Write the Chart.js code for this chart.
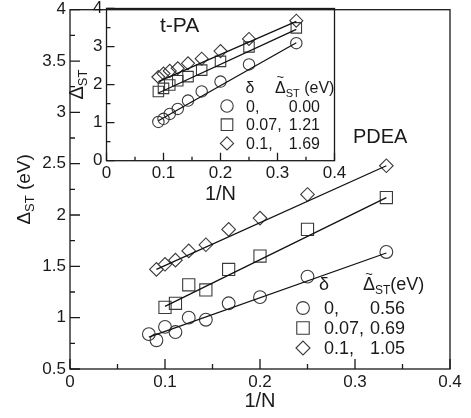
<!DOCTYPE html>
<html>
<head>
<meta charset="utf-8">
<script src="https://cdn.jsdelivr.net/npm/chart.js@4.4.1/dist/chart.umd.min.js"></script>
<style>
  html, body { margin: 0; padding: 0; background: #fff; }
  #wrap { position: relative; width: 471px; height: 418px; }
  #wrap canvas { position: absolute; left: 0; top: 0; }
</style>
</head>
<body>
<div id="wrap">
  <canvas id="pdea" width="471" height="418"></canvas>
  <canvas id="tpa" width="360" height="210"></canvas>
</div>
<script>
// PDEA: singlet-triplet gap against 1/N, three values of delta
const pdeaCircleX = [0.083, 0.091, 0.100, 0.111, 0.125, 0.143, 0.167, 0.200, 0.250, 0.333];
const pdeaCircleY = [0.84, 0.78, 0.91, 0.86, 1.00, 0.98, 1.14, 1.20, 1.40, 1.64];
const pdeaSquareX = [0.100, 0.111, 0.125, 0.143, 0.167, 0.200, 0.250, 0.333];
const pdeaSquareY = [1.10, 1.14, 1.32, 1.27, 1.47, 1.60, 1.86, 2.17];
const pdeaDiamondX = [0.091, 0.100, 0.111, 0.125, 0.143, 0.167, 0.200, 0.250, 0.333];
const pdeaDiamondY = [1.47, 1.52, 1.56, 1.65, 1.71, 1.86, 1.97, 2.20, 2.48];

// linear fits (end points)
const pdeaFitCircleX = [0.083, 0.333];
const pdeaFitCircleY = [0.81, 1.63];
const pdeaFitSquareX = [0.100, 0.333];
const pdeaFitSquareY = [1.11, 2.17];
const pdeaFitDiamondX = [0.091, 0.333];
const pdeaFitDiamondY = [1.47, 2.48];

// t-PA (inset)
const tpaX = [0.091, 0.100, 0.111, 0.125, 0.143, 0.167, 0.200, 0.250, 0.333];
const tpaCircleY = [1.02, 1.10, 1.23, 1.36, 1.58, 1.82, 2.08, 2.53, 3.09];
const tpaSquareY = [1.82, 1.90, 1.99, 2.10, 2.21, 2.38, 2.61, 2.99, 3.49];
const tpaDiamondY = [2.20, 2.29, 2.36, 2.43, 2.56, 2.68, 2.88, 3.20, 3.68];

const tpaFitCircleX = [0.091, 0.333];
const tpaFitCircleY = [1.05, 3.10];
const tpaFitSquareX = [0.091, 0.333];
const tpaFitSquareY = [1.78, 3.45];
const tpaFitDiamondX = [0.091, 0.333];
const tpaFitDiamondY = [2.08, 3.66];

const pdeaTicksX = [0, 0.1, 0.2, 0.3, 0.4];
const pdeaTicksY = [0.5, 1, 1.5, 2, 2.5, 3, 3.5, 4];
const tpaTicksX = [0, 0.1, 0.2, 0.3, 0.4];
const tpaTicksY = [0, 1, 2, 3, 4];

// legend rows: delta, fitted offset in eV
const legendDelta = ['0,', '0.07,', '0.1,'];
const pdeaOffset = ['0.56', '0.69', '1.05'];
const tpaOffset = ['0.00', '1.21', '1.69'];
const legendStyle = ['circle', 'rect', 'rectRot'];

const FONT = '"Liberation Sans", Arial, Helvetica, sans-serif';
const INK = '#1a1a1a';
Chart.defaults.font.family = FONT;
Chart.defaults.color = INK;

const pts = (xs, ys) => xs.map((x, i) => ({ x, y: ys[i] }));

function marks(xs, ys, style, r) {
  return {
    data: pts(xs, ys), showLine: false, pointStyle: style, pointRadius: r,
    pointBorderWidth: 1.1, pointBorderColor: '#3a3a3a', pointBackgroundColor: 'rgba(0,0,0,0)'
  };
}

function fitLine(xs, ys) {
  return { data: pts(xs, ys), showLine: true, pointRadius: 0, borderColor: '#111', borderWidth: 1.3, fill: false };
}

function axis(min, max, ticks, fixed, isX, pad) {
  return {
    type: 'linear', min, max,
    afterBuildTicks: s => { s.ticks = ticks.map(v => ({ value: v })); },
    afterFit: s => {
      if (isX) { s.height = fixed; s.paddingLeft = 0; s.paddingRight = 0; }
      else { s.width = fixed; s.paddingTop = 0; s.paddingBottom = 0; }
    },
    grid: { display: false, drawTicks: false },
    border: { display: false },
    ticks: { autoSkip: false, maxRotation: 0, padding: pad, font: { size: 17 }, color: INK, callback: v => String(v) }
  };
}

const mids = arr => arr.slice(1).map((v, i) => (v + arr[i]) / 2);

// box round the plot area plus inward ticks on the left and bottom
function frame(xMajor, yMajor, xMinor, yMinor, major, minor) {
  return {
    id: 'frame',
    afterDatasetsDraw(chart) {
      const { ctx, chartArea: a, scales: { x, y } } = chart;
      ctx.save();
      ctx.strokeStyle = INK;
      ctx.lineWidth = 1.3;
      ctx.strokeRect(a.left, a.top, a.right - a.left, a.bottom - a.top);
      ctx.beginPath();
      const tx = (v, len) => { const p = x.getPixelForValue(v); ctx.moveTo(p, a.bottom); ctx.lineTo(p, a.bottom - len); };
      const ty = (v, len) => { const p = y.getPixelForValue(v); ctx.moveTo(a.left, p); ctx.lineTo(a.left + len, p); };
      xMajor.forEach(v => tx(v, major));
      xMinor.forEach(v => tx(v, minor));
      yMajor.forEach(v => ty(v, major));
      yMinor.forEach(v => ty(v, minor));
      ctx.stroke();
      ctx.restore();
    }
  };
}

function setFont(ctx, size) { ctx.font = size + 'px ' + FONT; }

// draws [text, size, dy] pieces one after another, returns end x
function run(ctx, x, y, parts) {
  parts.forEach(([t, size, dy]) => {
    setFont(ctx, size);
    ctx.fillText(t, x, y + (dy || 0));
    x += ctx.measureText(t).width;
  });
  return x;
}

function runWidth(ctx, parts) {
  return parts.reduce((w, [t, size]) => { setFont(ctx, size); return w + ctx.measureText(t).width; }, 0);
}

function rotatedTitle(ctx, cx, cy, base, parts) {
  ctx.save();
  ctx.translate(cx, cy);
  ctx.rotate(-Math.PI / 2);
  run(ctx, -runWidth(ctx, parts) / 2, base, parts);
  ctx.restore();
}

function legendMark(ctx, style, x, y, r) {
  ctx.beginPath();
  if (style === 'circle') {
    ctx.arc(x, y, r, 0, Math.PI * 2);
  } else if (style === 'rect') {
    const h = r * Math.SQRT1_2;
    ctx.rect(x - h, y - h, 2 * h, 2 * h);
  } else {
    ctx.moveTo(x - r, y); ctx.lineTo(x, y - r); ctx.lineTo(x + r, y); ctx.lineTo(x, y + r); ctx.closePath();
  }
  ctx.stroke();
}

// legend: header line "δ  Δ~_ST (eV)", then marker, delta and offset per row
function legend(ctx, o, values) {
  ctx.save();
  ctx.fillStyle = INK;
  ctx.textBaseline = 'alphabetic';
  setFont(ctx, o.size);
  ctx.textAlign = 'center';
  ctx.fillText('δ', o.deltaX, o.headY);
  ctx.textAlign = 'left';
  setFont(ctx, o.size);
  const dw = ctx.measureText('Δ').width;
  setFont(ctx, 13);
  ctx.textAlign = 'center';
  ctx.fillText('~', o.headX + dw / 2, o.headY - 12.5);
  ctx.textAlign = 'left';
  run(ctx, o.headX, o.headY, [['Δ', o.size, 0], ['ST', o.sub, 4], [o.unit, o.size, 0]]);
  ctx.strokeStyle = '#3a3a3a';
  ctx.lineWidth = 1.1;
  values.forEach((val, i) => {
    const cy = o.rowY + i * o.rowH;
    legendMark(ctx, legendStyle[i], o.markX, cy, o.r[i]);
    setFont(ctx, o.size);
    ctx.textAlign = 'left';
    ctx.fillText(legendDelta[i], o.textX, cy + o.size * 0.36);
    ctx.textAlign = 'right';
    ctx.fillText(val, o.valX, cy + o.size * 0.36);
  });
  ctx.restore();
}

new Chart(document.getElementById('pdea'), {
  type: 'scatter',
  data: {
    datasets: [
      fitLine(pdeaFitCircleX, pdeaFitCircleY),
      fitLine(pdeaFitSquareX, pdeaFitSquareY),
      fitLine(pdeaFitDiamondX, pdeaFitDiamondY),
      marks(pdeaCircleX, pdeaCircleY, 'circle', 6.4),
      marks(pdeaSquareX, pdeaSquareY, 'rect', 8.6),
      marks(pdeaDiamondX, pdeaDiamondY, 'rectRot', 6.8)
    ]
  },
  options: {
    responsive: false, animation: false, events: [],
    layout: { padding: { left: 0, top: 7, right: 21, bottom: 0 } },
    plugins: { legend: { display: false }, tooltip: { enabled: false } },
    scales: {
      x: axis(0, 0.4, pdeaTicksX, 49, true, 3),
      y: axis(0.5, 4, pdeaTicksY, 70, false, 4)
    }
  },
  plugins: [
    frame(pdeaTicksX, pdeaTicksY, mids(pdeaTicksX), mids(pdeaTicksY), 10, 5),
    {
      id: 'pdeaText',
      afterDraw(chart) {
        const { ctx, chartArea: a } = chart;
        ctx.save();
        ctx.fillStyle = INK;
        setFont(ctx, 20);
        ctx.fillText('PDEA', 353, 143);
        ctx.textAlign = 'center';
        ctx.fillText('1/N', (a.left + a.right) / 2, 407);
        ctx.textAlign = 'left';
        rotatedTitle(ctx, 25, (a.top + a.bottom) / 2, 5, [['Δ', 19, 0], ['ST', 13, 4], [' (eV)', 19, 0]]);
        ctx.restore();
        legend(ctx, {
          size: 18, sub: 12, unit: '(eV)', deltaX: 324, headX: 363, headY: 290,
          markX: 303, rowY: 308, rowH: 20, textX: 324, valX: 405, r: [6.4, 8.8, 7]
        }, pdeaOffset);
      }
    }
  ]
});

new Chart(document.getElementById('tpa'), {
  type: 'scatter',
  data: {
    datasets: [
      fitLine(tpaFitCircleX, tpaFitCircleY),
      fitLine(tpaFitSquareX, tpaFitSquareY),
      fitLine(tpaFitDiamondX, tpaFitDiamondY),
      marks(tpaX, tpaCircleY, 'circle', 5.7),
      marks(tpaX, tpaSquareY, 'rect', 7.4),
      marks(tpaX, tpaDiamondY, 'rectRot', 6.5)
    ]
  },
  options: {
    responsive: false, animation: false, events: [],
    layout: { padding: { left: 0, top: 7, right: 25.5, bottom: 0 } },
    plugins: { legend: { display: false }, tooltip: { enabled: false } },
    scales: {
      x: axis(0, 0.4, tpaTicksX, 49.3, true, 2),
      y: axis(0, 4, tpaTicksY, 106.5, false, 4)
    }
  },
  plugins: [
    frame(tpaTicksX, tpaTicksY, mids(tpaTicksX), mids(tpaTicksY), 8, 4),
    {
      id: 'tpaText',
      afterDraw(chart) {
        const { ctx, chartArea: a } = chart;
        ctx.save();
        ctx.fillStyle = INK;
        setFont(ctx, 21);
        ctx.fillText('t-PA', 160, 32);
        setFont(ctx, 20);
        ctx.textAlign = 'center';
        ctx.fillText('1/N', (a.left + a.right) / 2, 200);
        ctx.textAlign = 'left';
        rotatedTitle(ctx, 78, (a.top + a.bottom) / 2, 5, [['Δ', 20, 0], ['ST', 13, 4]]);
        ctx.restore();
        legend(ctx, {
          size: 16, sub: 11, unit: ' (eV)', deltaX: 250, headX: 275, headY: 93,
          markX: 227, rowY: 106, rowH: 18.7, textX: 246, valX: 320, r: [6.2, 8.2, 6.6]
        }, tpaOffset);
      }
    }
  ]
});
</script>
</body>
</html>
